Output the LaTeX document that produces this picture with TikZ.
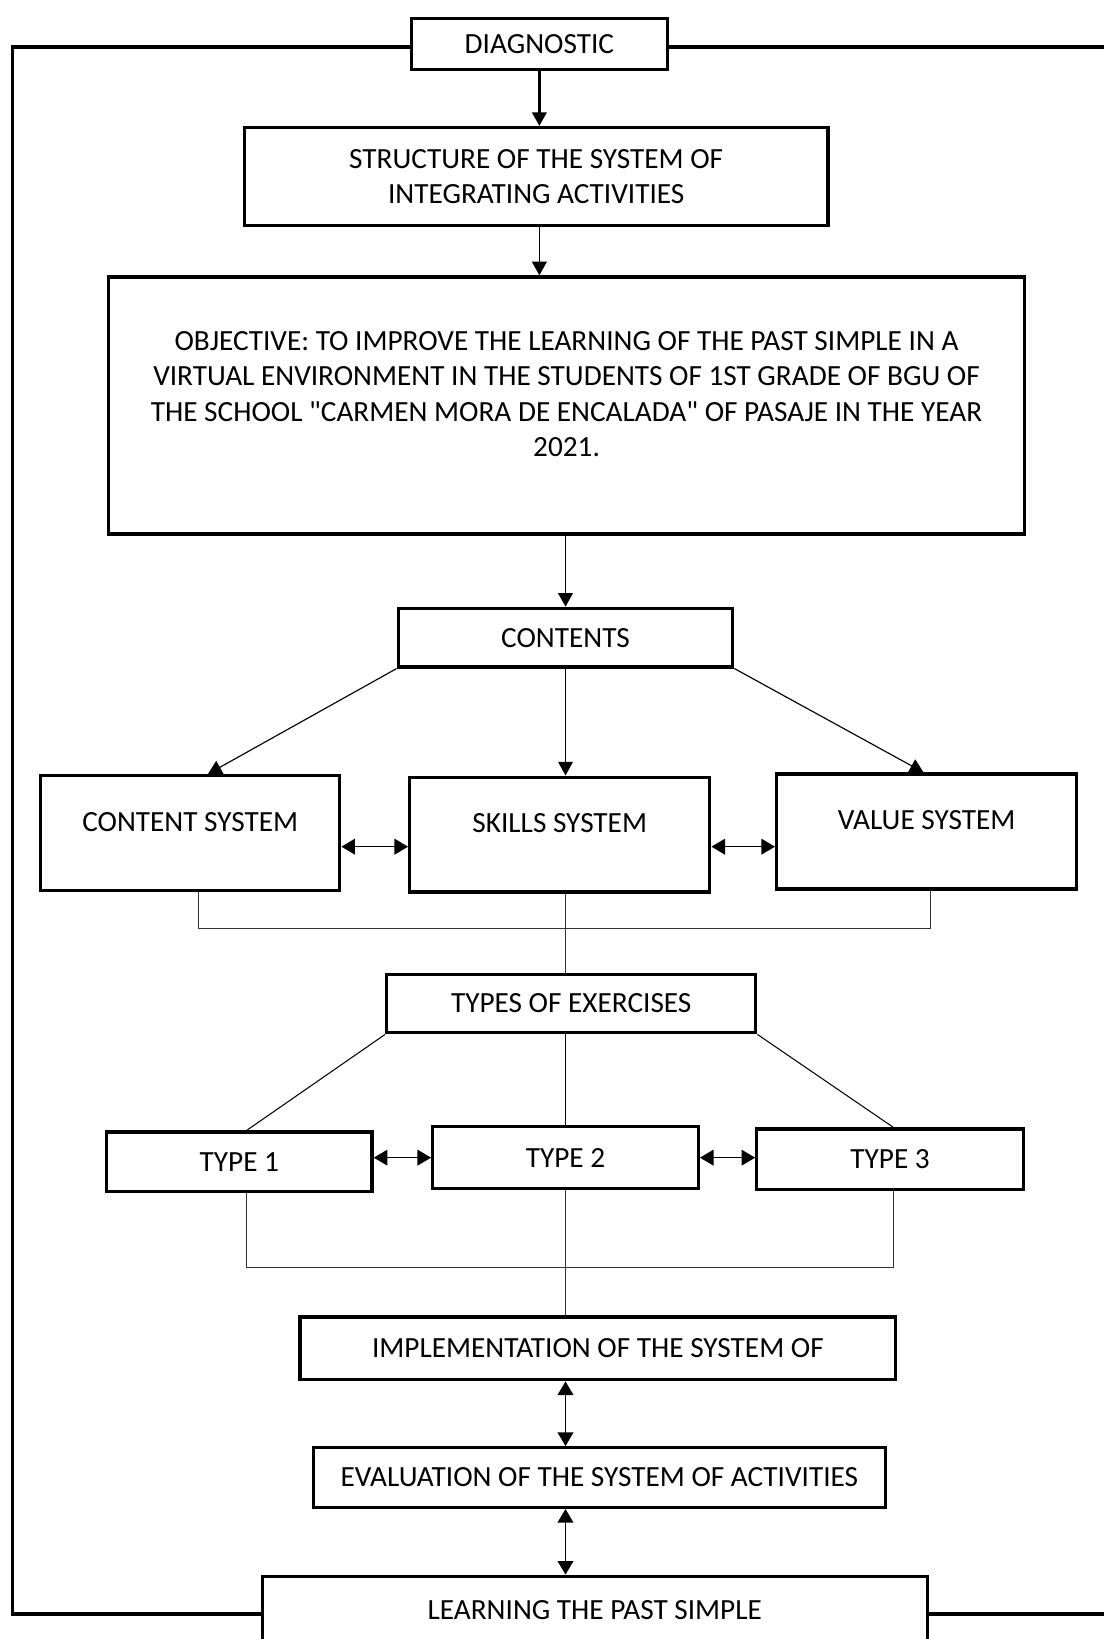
\documentclass[tikz,border=0pt]{standalone}
\usepackage{fontspec}
\setmainfont{Carlito}
\usetikzlibrary{arrows.meta, positioning, calc}
\tikzset{
    block/.style = {rectangle, draw, line width=3.2pt, fill=white, text centered, inner sep=0pt, font=\fontsize{28}{33.6}\selectfont},
    sysblock/.style = {block, minimum width=286pt, minimum height=110pt, text height=20pt, text depth=24pt},
    typeblock/.style = {block, minimum width=254pt, minimum height=58pt},
    line/.style = {draw, -{Triangle[length=13pt,width=14pt]}, line width=1.6pt},
    dline/.style = {draw, {Triangle[length=13pt,width=15pt]}-{Triangle[length=13pt,width=15pt]}, line width=1.4pt},
    thinline/.style = {draw, line width=1pt},
    joinline/.style = {draw, line width=0.9pt, black!80},
    frame/.style = {draw, line width=3pt}
}
\begin{document}
\begin{tikzpicture}[x=1pt, y=-1pt]
        \useasboundingbox (0,0) rectangle (1056,1568);
        \coordinate (frameL) at (12,0);
        \coordinate (frameR) at (1062,0);

        % Main Flow
        \node [block, minimum width=245pt, minimum height=49pt] (diag) at (516,42) {DIAGNOSTIC};
        \node [block, minimum width=558pt, minimum height=94pt, align=center] (struct) at (513,169) {STRUCTURE OF THE SYSTEM OF\\INTEGRATING ACTIVITIES};
        \node [block, minimum width=876pt, minimum height=246pt] (objective) at (542,388) {\parbox{840pt}{\centering OBJECTIVE: TO IMPROVE THE LEARNING OF THE PAST SIMPLE IN A\\VIRTUAL ENVIRONMENT IN THE STUDENTS OF 1ST GRADE OF BGU OF\\THE SCHOOL \textquotedbl CARMEN MORA DE ENCALADA\textquotedbl{} OF PASAJE IN THE YEAR\\2021.\par\vspace{22pt}}};
        \node [block, minimum width=320pt, minimum height=56pt] (contents) at (541,610) {CONTENTS};

        % Systems
        \node [sysblock] (csys) at (182,797) {CONTENT SYSTEM};
        \node [sysblock, minimum width=287pt] (skills) at (535.5,798.5) {SKILLS SYSTEM};
        \node [sysblock, minimum width=287pt] (value) at (886.5,795.5) {VALUE SYSTEM};

        % Exercises
        \node [block, minimum width=353pt, minimum height=56pt] (types) at (546.5,960) {TYPES OF EXERCISES};
        \node [typeblock, minimum height=57pt] (type1) at (229,1111.5) {TYPE 1};
        \node [typeblock, minimum height=59pt] (type2) at (541,1107.5) {TYPE 2};
        \node [typeblock, minimum width=255pt] (type3) at (851.5,1109) {TYPE 3};

        % Implementation & Evaluation
        \node [block, minimum width=570pt, minimum height=60pt] (impl) at (572,1290) {IMPLEMENTATION OF THE SYSTEM OF};
        \node [block, minimum width=547pt, minimum height=57pt] (eval) at (573.5,1413.5) {EVALUATION OF THE SYSTEM OF ACTIVITIES};
        \node [block, minimum width=636pt, minimum height=72pt, text depth=8pt] (learn) at (569,1544) {LEARNING THE PAST SIMPLE};

        % Edges Main
        \path [line, line width=2.2pt] (diag.south) -- (diag.south |- struct.north);
        \path [line] (diag.south |- struct.south) -- (diag.south |- objective.north);
        \path [line] (objective.south -| contents.south) -- (contents.north);
        \path [line, line width=1.1pt] (contents.south west) -- ([xshift=17pt]csys.north);
        \path [line, line width=1.1pt] (contents.south) -- (contents.south |- skills.north);
        \path [line, line width=1.1pt] (contents.south east) -- ([xshift=-3pt]value.north);
        \path [dline] ([yshift=-13pt]csys.east) -- ([yshift=-13pt]csys.east -| skills.west);
        \path [dline] ([yshift=-13pt]csys.east -| skills.east) -- ([yshift=-13pt]csys.east -| value.west);

        % Join to exercises
        \path [joinline] ([xshift=8pt]csys.south) -- ++(0,35) -| ([xshift=4pt]value.south);
        \path [joinline] (contents.south |- skills.south) -- (contents.south |- types.north);
        \path [thinline] (types.south west) -- ([xshift=7pt]type1.north);
        \path [thinline] (type2.north |- types.south) -- (type2.north);
        \path [thinline] (types.south east) -- ([xshift=3pt]type3.north);
        \path [dline] (type2.west -| type1.east) -- (type2.west);
        \path [dline] (type2.east) -- (type2.east -| type3.west);
        \path [joinline] ([xshift=7pt]type1.south) -- ++(0,71) -| ([xshift=3pt]type3.south);
        \path [joinline] (type2.south) -- (type2.south |- impl.north);
        \path [dline] (type2.south |- impl.south) -- (type2.south |- eval.north);
        \path [dline] (type2.south |- eval.south) -- (type2.south |- learn.north);

        % Feedback frame
        \path [frame] ([yshift=-3pt]diag.west) -| (frameL |- learn.west) -- (learn.west);
        \path [frame] ([yshift=-3pt]diag.east) -- ([yshift=-3pt]diag.east -| frameR);
        \path [frame] (learn.east) -- (learn.east -| frameR);

    \end{tikzpicture}
\end{document}
